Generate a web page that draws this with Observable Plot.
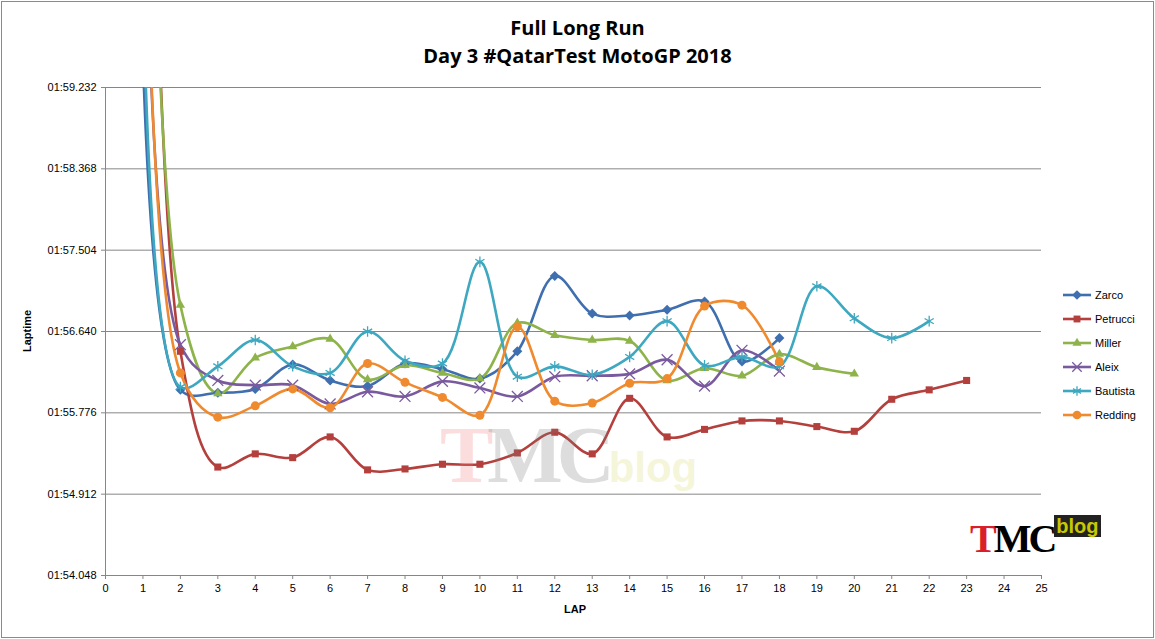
<!DOCTYPE html>
<html><head><meta charset="utf-8">
<script src="https://cdn.jsdelivr.net/npm/d3@7"></script>
<script src="https://cdn.jsdelivr.net/npm/@observablehq/plot@0.6"></script>
<style>
body{margin:0;background:#fff;font-family:"Liberation Sans",Arial,sans-serif}
#wrap{position:relative;width:1155px;height:639px}
#frame{position:absolute;left:1px;top:1px;width:1151px;height:635px;border:1px solid #8a8a8a;pointer-events:none}
#title{position:absolute;left:0;top:14px;width:1155px;text-align:center;font:bold 20px "Open Sans",sans-serif;line-height:28px;color:#000}
#legend{position:absolute;left:1063px;top:283px;font:11px "Liberation Sans",Arial,sans-serif}
#legend div{height:24px;display:flex;align-items:center}
#legend svg{margin-right:4px}
#logo{position:absolute;left:970px;top:515px;font:bold 40px "Liberation Serif",serif;color:#d9202a;letter-spacing:-3px}
#logo span{color:#000}
#logo b{font:bold 20px "Liberation Sans",sans-serif;color:#c8c800;background:#222;padding:0 2px;vertical-align:top;letter-spacing:0}
#wm{position:absolute;left:440px;top:410px;font:bold 80px "Liberation Serif",serif;color:rgba(240,120,120,0.25);letter-spacing:-6px}
#wm span{color:rgba(120,120,120,0.25)}
#wm b{font:bold 42px "Liberation Sans",sans-serif;color:rgba(220,220,120,0.3);letter-spacing:0}
</style></head><body>
<div id="wrap"><div id="chart"></div>
<div id="wm">T<span>MC</span><b>blog</b></div>
<div id="title">Full Long Run<br>Day 3 #QatarTest MotoGP 2018</div>
<div id="legend"></div>
<div id="logo">T<span>MC</span><b>blog</b></div>
<div id="frame"></div></div>
<script>
const laps = [1,2,3,4,5,6,7,8,9,10,11,12,13,14,15,16,17,18,19,20,21,22,23];
const riders = ["Zarco","Petrucci","Miller","Aleix","Bautista","Redding"];
const colors = ["#3f6faf","#b4403d","#8db34a","#7a5a9e","#3ea8c0","#f08a2e"];
const symbols = ["diamond2","square2","triangle2","times","asterisk","circle"];
const zarco    = [130,116.02,115.99,116.03,116.29,116.12,116.06,116.30,116.24,116.14,116.43,117.23,116.83,116.81,116.87,116.96,116.32,116.57];
const petrucci = [131,116.43,115.20,115.34,115.30,115.52,115.17,115.18,115.23,115.23,115.35,115.57,115.34,115.93,115.52,115.60,115.69,115.69,115.63,115.58,115.92,116.02,116.12];
const miller   = [129,116.92,115.98,116.36,116.48,116.56,116.13,116.28,116.20,116.14,116.73,116.60,116.55,116.54,116.12,116.25,116.17,116.40,116.26,116.19];
const aleix    = [130,116.50,116.12,116.07,116.07,115.87,116.00,115.95,116.11,116.04,115.95,116.16,116.17,116.19,116.34,116.06,116.44,116.22];
const bautista = [129,116.05,116.27,116.55,116.27,116.20,116.64,116.33,116.30,117.38,116.16,116.27,116.18,116.37,116.75,116.28,116.37,116.27,117.12,116.78,116.57,116.75];
const redding  = [130,116.20,115.73,115.85,116.03,115.83,116.30,116.10,115.94,115.75,116.69,115.90,115.88,116.09,116.14,116.91,116.92,116.32];
const yTicks = [114.048,114.912,115.776,116.640,117.504,118.368,119.232];
const xTicks = d3.range(0,26);

const series = [zarco,petrucci,miller,aleix,bautista,redding];
const data = series.flatMap((s,i)=>s.map((v,j)=>({rider:riders[i],lap:laps[j],t:v})));
const fmt = v => { const m=Math.floor(v/60), s=v-m*60; return String(m).padStart(2,"0")+":"+(s<10?"0":"")+s.toFixed(3); };
const col = d3.scaleOrdinal(riders, colors);

const marks = [
  Plot.ruleY(yTicks,{stroke:"#868686"}),
  Plot.ruleX([0],{stroke:"#868686"}),
  Plot.line(data,{x:"lap",y:"t",z:"rider",stroke:d=>col(d.rider),strokeWidth:2.6,curve:"catmull-rom",clip:true}),
];
riders.forEach((r,i)=>{
  const pts = data.filter(d=>d.rider===r && d.lap>1);
  const stroky = symbols[i]==="times"||symbols[i]==="asterisk";
  marks.push(Plot.dot(pts,{x:"lap",y:"t",symbol:symbols[i],r:stroky?5:4.5,
    fill:stroky?"none":colors[i],stroke:stroky?colors[i]:"none",strokeWidth:1.3}));
});
const chart = Plot.plot({
  width:1155,height:639,marginTop:87,marginBottom:64,marginLeft:105,marginRight:114,
  style:{fontFamily:"Liberation Sans, Arial, sans-serif",fontSize:"11px",color:"#000"},
  x:{domain:[0,25],ticks:xTicks,tickFormat:d=>d,tickSize:4,label:null,line:true},
  y:{domain:[114.048,119.232],ticks:yTicks,tickFormat:fmt,tickSize:4,label:null},
  marks
});
chart.querySelectorAll('[aria-label="x-axis tick"] path, [aria-label="y-axis tick"] path, [aria-label="x-axis tick"], [aria-label="y-axis tick"]').forEach(p=>p.setAttribute("stroke","#868686"));
document.getElementById("chart").append(chart);
const svg = d3.select(chart);
svg.append("text").attr("x",575).attr("y",613).attr("text-anchor","middle").attr("font-weight","bold").attr("font-size",11).text("LAP");
svg.append("text").attr("transform","translate(31,331) rotate(-90)").attr("text-anchor","middle").attr("font-weight","bold").attr("font-size",11).text("Laptime");

const leg = document.getElementById("legend");
const map={diamond2:d3.symbolDiamond2,square2:d3.symbolSquare2,triangle2:d3.symbolTriangle2,times:d3.symbolTimes,asterisk:d3.symbolAsterisk,circle:d3.symbolCircle};
riders.forEach((r,i)=>{
  const d=document.createElement("div");
  const stroky = symbols[i]==="times"||symbols[i]==="asterisk";
  const p = d3.symbol(map[symbols[i]], 60)();
  d.innerHTML=`<svg width="28" height="12"><line x1="0" x2="28" y1="6" y2="6" stroke="${colors[i]}" stroke-width="2.6"/><path transform="translate(14,6)" d="${p}" fill="${stroky?"none":colors[i]}" stroke="${stroky?colors[i]:"none"}" stroke-width="1.3"/></svg>${r}`;
  leg.append(d);
});
</script></body></html>
